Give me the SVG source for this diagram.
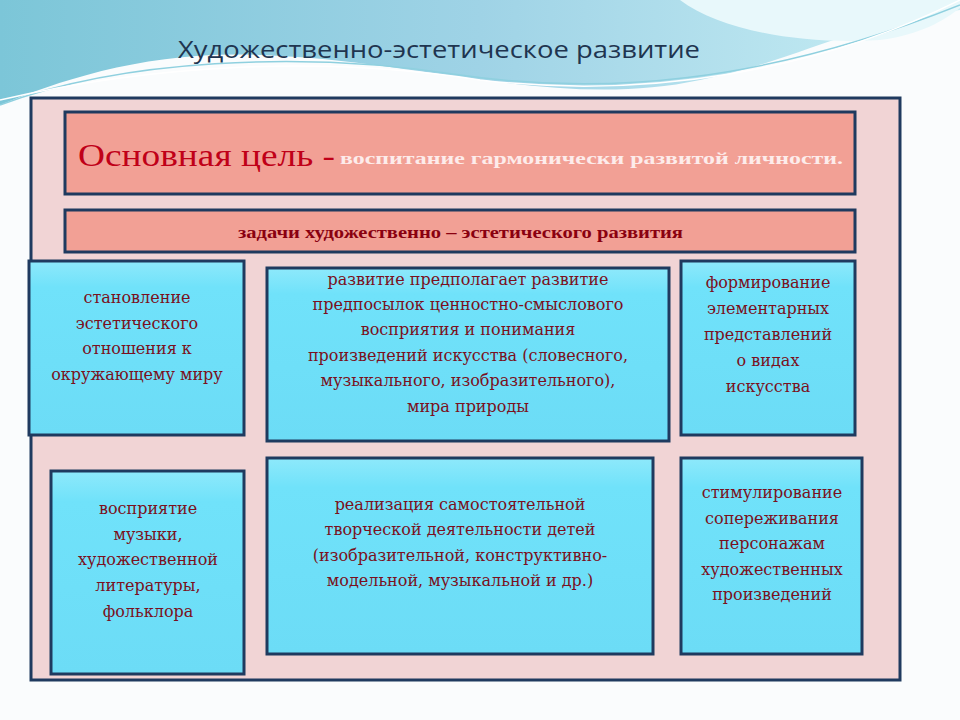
<svg xmlns="http://www.w3.org/2000/svg" width="960" height="720" viewBox="0 0 960 720">
<defs>
<linearGradient id="sky" x1="0" y1="0" x2="1" y2="0"><stop offset="0" stop-color="#7cc6d8"/><stop offset="0.5" stop-color="#9fd3e6"/><stop offset="1" stop-color="#c8eef4"/></linearGradient>
<linearGradient id="cy" x1="0" y1="0" x2="0" y2="1"><stop offset="0" stop-color="#8ee9fb"/><stop offset="0.15" stop-color="#70e2fa"/><stop offset="1" stop-color="#6cdcf6"/></linearGradient>
</defs>
<style>
.box{fill:url(#cy);stroke:#1f3a5f;stroke-width:3}
.pink{fill:#f2a095;stroke:#1f3a5f;stroke-width:3}
.t{font-family:"DejaVu Serif","Liberation Serif",serif;font-size:16px;fill:#7a1020;text-anchor:middle}
</style>
<rect width="960" height="720" fill="#fafcfd"/>
<path d="M0 0 H960 V10 C860 20 800 60 700 80 C560 110 420 60 260 55 C150 50 60 80 0 105 Z" fill="url(#sky)"/>
<path d="M680 0 C720 30 800 45 880 40 C920 35 945 20 960 8 V0 Z" fill="#e8f8fb"/>
<path d="M0 105 C120 60 300 50 460 75 C600 95 760 85 960 5" fill="none" stroke="#8fd0df" stroke-width="1.5"/>
<path d="M0 100 C150 65 320 55 480 80 C650 100 820 70 960 0" fill="none" stroke="#ffffff" stroke-width="1.5"/>
<text x="178" y="58" font-family="Open Sans,Liberation Sans,sans-serif" font-size="24" fill="#1f3550" textLength="522" lengthAdjust="spacingAndGlyphs">Художественно-эстетическое развитие</text>
<rect x="31" y="98" width="869" height="582" fill="#f1d4d5" stroke="#1f3a5f" stroke-width="3"/>
<g id="goal"><rect class="pink" x="65" y="112" width="790" height="82"/>
<text x="78" y="166" font-family="Liberation Serif,serif" font-size="32" fill="#c00018" textLength="257" lengthAdjust="spacingAndGlyphs">Основная цель -</text>
<text x="340" y="164" font-family="Liberation Serif,serif" font-size="17" font-weight="bold" fill="#fdeceb" textLength="503" lengthAdjust="spacingAndGlyphs">воспитание   гармонически развитой личности.</text></g>
<g id="tasks"><rect class="pink" x="65" y="210" width="790" height="42"/>
<text x="238" y="238" font-family="Liberation Serif,serif" font-size="16" font-weight="bold" fill="#8a0010" textLength="445" lengthAdjust="spacingAndGlyphs">задачи художественно – эстетического развития</text></g>
<g id="a"><rect class="box" x="29" y="261" width="215" height="174"/>
<text class="t"><tspan x="137" y="303">становление</tspan><tspan x="137" y="329">эстетического</tspan><tspan x="137" y="354">отношения к</tspan><tspan x="137" y="380">окружающему миру</tspan></text></g>
<g id="b"><rect class="box" x="267" y="268" width="402" height="173"/>
<text class="t"><tspan x="468" y="285">развитие предполагает  развитие</tspan><tspan x="468" y="310">предпосылок ценностно-смыслового</tspan><tspan x="468" y="335">восприятия и понимания</tspan><tspan x="468" y="361">произведений искусства (словесного,</tspan><tspan x="468" y="386">музыкального,  изобразительного),</tspan><tspan x="468" y="412">мира природы</tspan></text></g>
<g id="c"><rect class="box" x="681" y="261" width="174" height="174"/>
<text class="t"><tspan x="768" y="288">формирование</tspan><tspan x="768" y="314">элементарных</tspan><tspan x="768" y="340">представлений</tspan><tspan x="768" y="366">о видах</tspan><tspan x="768" y="392">искусства</tspan></text></g>
<g id="d"><rect class="box" x="51" y="471" width="193" height="203"/>
<text class="t"><tspan x="148" y="514">восприятие</tspan><tspan x="148" y="540">музыки,</tspan><tspan x="148" y="565">художественной</tspan><tspan x="148" y="591">литературы,</tspan><tspan x="148" y="617">фольклора</tspan></text></g>
<g id="e"><rect class="box" x="267" y="458" width="386" height="196"/>
<text class="t"><tspan x="460" y="510">реализация самостоятельной</tspan><tspan x="460" y="535">творческой деятельности детей</tspan><tspan x="460" y="561">(изобразительной, конструктивно-</tspan><tspan x="460" y="586">модельной, музыкальной и др.)</tspan></text></g>
<g id="f"><rect class="box" x="681" y="458" width="181" height="196"/>
<text class="t"><tspan x="772" y="498">стимулирование</tspan><tspan x="772" y="524">сопереживания</tspan><tspan x="772" y="549">персонажам</tspan><tspan x="772" y="575">художественных</tspan><tspan x="772" y="600">произведений</tspan></text></g>
<g id="connectors"/>
</svg>
